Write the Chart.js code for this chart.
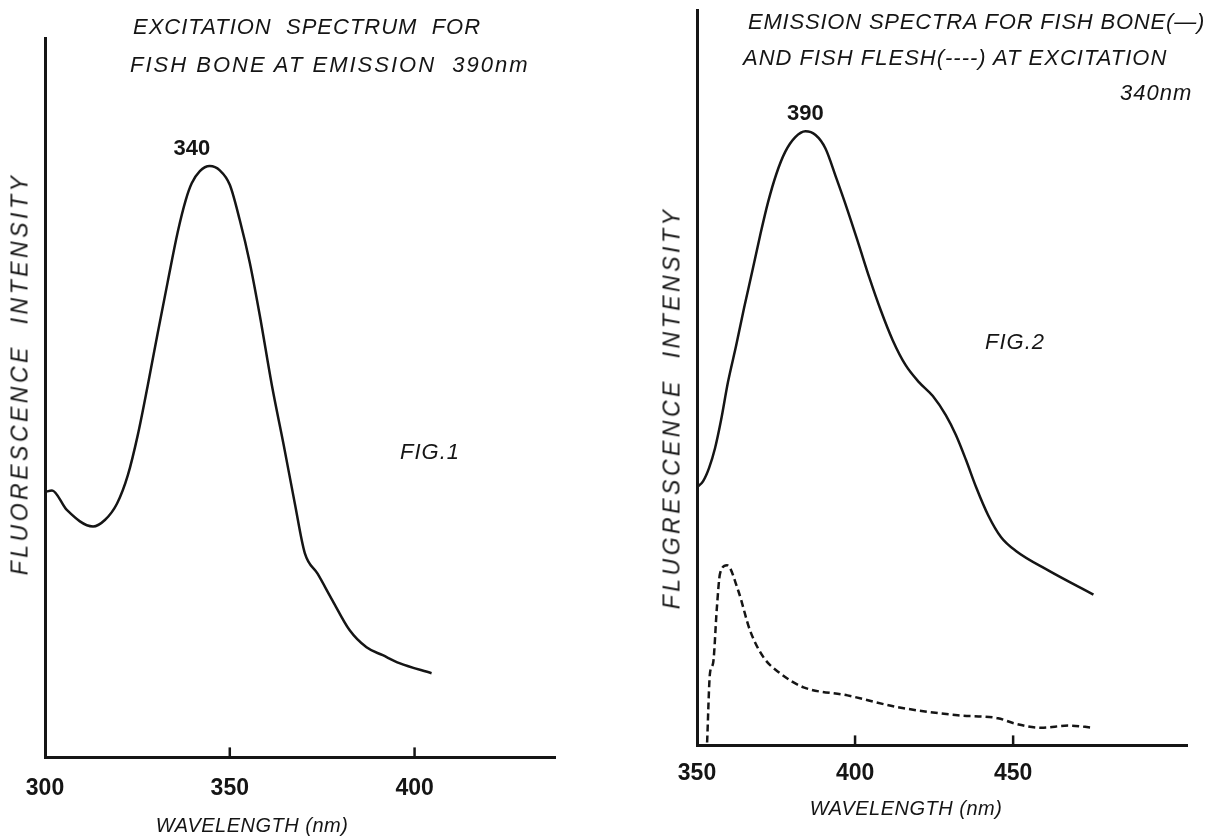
<!DOCTYPE html>
<html>
<head>
<meta charset="utf-8">
<script src="https://cdn.jsdelivr.net/npm/chart.js@4.4.1/dist/chart.umd.min.js"></script>
<style>
  html, body { margin: 0; padding: 0; background: #fff; }
  #page { position: relative; width: 1216px; height: 837px; overflow: hidden;
          font-family: "Liberation Sans", Arial, sans-serif; color: #151515; }
  canvas { position: absolute; top: 0; }
  #chart1 { left: 0; }
  #chart2 { left: 620px; }
  .note { position: absolute; font-style: italic; font-size: 22px; letter-spacing: 1px;
          white-space: pre; line-height: 1; transform: translateY(-50%); }
  .xtitle { position: absolute; font-style: italic; font-size: 20px; letter-spacing: 0.5px;
            white-space: pre; line-height: 1; transform: translate(-50%, -50%); }
  .ytitle { position: absolute; font-style: italic; font-size: 23px; letter-spacing: 3.5px;
            white-space: pre; line-height: 1; transform: translate(-50%, -50%) rotate(-90deg); }
</style>
</head>
<body>
<div id="page">
  <canvas id="chart1" width="620" height="837"></canvas>
  <canvas id="chart2" width="596" height="837"></canvas>

  <div class="note" style="left:133px; top:27px;">EXCITATION  SPECTRUM  FOR</div>
  <div class="note" style="left:130px; top:65px; letter-spacing:2px;">FISH BONE AT EMISSION  390nm</div>
  <div class="note" style="left:400px; top:452px;">FIG.1</div>
  <div class="ytitle" style="left:20px; top:374px;">FLUORESCENCE  INTENSITY</div>
  <div class="xtitle" style="left:252px; top:825px;">WAVELENGTH (nm)</div>

  <div class="note" style="left:748px; top:22px; letter-spacing:0.8px;">EMISSION SPECTRA FOR FISH BONE(—)</div>
  <div class="note" style="left:743px; top:58px;">AND FISH FLESH(----) AT EXCITATION</div>
  <div class="note" style="left:1120px; top:93px;">340nm</div>
  <div class="note" style="left:985px; top:342px;">FIG.2</div>
  <div class="ytitle" style="left:672px; top:408px;">FLUGRESCENCE  INTENSITY</div>
  <div class="xtitle" style="left:906px; top:808px;">WAVELENGTH (nm)</div>
</div>

<script>
// Fig. 1 - excitation spectrum of fish bone (emission 390 nm)
const excitationWavelength = [300, 301.9, 305.9, 313.0, 316.2, 319.5, 322.4, 325.1, 327.8, 330.5, 333.2, 335.9, 338.1,
  339.7, 341.9, 344.6, 347.3, 350.0, 352.7, 355.4, 358.1, 361.4, 364.6, 367.6, 370.3, 373.8, 377.8, 382.4,
  387.0, 391.4, 395.9, 404.6];
const excitationBone = [36.9, 37.1, 34.4, 32.1, 33.0, 35.3, 39.2, 44.8, 51.7, 59.0, 66.1, 73.0, 77.5,
  79.8, 81.5, 82.2, 81.6, 79.6, 74.7, 68.8, 61.5, 51.7, 43.4, 35.3, 28.4, 25.5, 21.8, 17.7,
  15.3, 14.2, 13.1, 11.7];

// Fig. 2 - emission spectra at excitation 340 nm
const emissionWavelength = [350.0, 351.9, 353.8, 355.7, 357.6, 359.8, 362.4, 364.9, 367.5, 370.0, 372.5, 375.1,
  377.9, 381.1, 384.3, 387.5, 390.6, 394.1, 397.6, 401.1, 404.6, 408.1, 411.9, 416.0, 420.2, 424.6, 428.7,
  431.9, 435.1, 438.3, 442.1, 446.2, 451.0, 461.1, 475.4];
const emissionBone = [35.1, 35.9, 37.7, 40.4, 44.2, 49.4, 54.4, 59.5, 64.5, 69.4, 73.9, 77.7,
  80.7, 82.7, 83.5, 83.0, 81.2, 77.1, 72.8, 68.2, 63.5, 59.2, 55.1, 51.7, 49.4, 47.5, 44.9,
  42.2, 38.8, 35.1, 31.3, 28.3, 26.4, 23.8, 20.5];
const fleshWavelength = [353.2, 354.1, 355.1, 356.3, 357.3, 359.5, 363.0, 366.8, 371.0, 376.3, 383.7, 397.6,
  413.5, 432.5, 445.2, 450.3, 458.9, 467.5, 475.4];
const emissionFlesh = [0.4, 9.8, 11.2, 18.8, 23.4, 24.5, 21.1, 15.6, 12.0, 9.8, 7.9, 6.8,
  5.2, 4.1, 3.7, 3.0, 2.4, 2.7, 2.4];

const fig1Ticks = [300, 350, 400];
const fig2Ticks = [350, 400, 450];
const fig1Range = [300, 438];
const fig2Range = [350, 505];
const peakLabels = ["340", "390"];

const ink = "#151515";
const fontFamily = "\"Liberation Sans\", Arial, sans-serif";

const toPoints = (xs, ys) => xs.map((x, i) => ({ x: x, y: ys[i] }));

const peakLabel = {
  id: "peakLabel",
  afterDatasetsDraw(chart, args, opts) {
    const data = chart.data.datasets[0].data;
    let top = data[0];
    data.forEach((p) => { if (p.y > top.y) top = p; });
    const x = chart.scales.x.getPixelForValue(top.x);
    const y = chart.scales.y.getPixelForValue(top.y);
    const ctx = chart.ctx;
    ctx.save();
    ctx.font = "bold 22px " + fontFamily;
    ctx.fillStyle = ink;
    ctx.textAlign = "center";
    ctx.textBaseline = "bottom";
    ctx.fillText(opts.text, x + (opts.dx || 0), y - 6);
    ctx.restore();
  }
};

// short tick marks standing up inside the plot
const innerTicks = {
  id: "innerTicks",
  afterDraw(chart) {
    const { ctx, chartArea } = chart;
    const xScale = chart.scales.x;
    ctx.save();
    ctx.strokeStyle = ink;
    ctx.lineWidth = 2.5;
    xScale.ticks.forEach((t) => {
      if (t.value === xScale.min) return;
      const px = xScale.getPixelForValue(t.value);
      ctx.beginPath();
      ctx.moveTo(px, chartArea.bottom);
      ctx.lineTo(px, chartArea.bottom - 10);
      ctx.stroke();
    });
    ctx.restore();
  }
};

function makeChart(canvasId, datasets, range, tickValues, label, padding, tickPad, labelDx) {
  return new Chart(document.getElementById(canvasId), {
    type: "line",
    data: { datasets: datasets },
    options: {
      responsive: false,
      animation: false,
      layout: { padding: padding },
      plugins: {
        legend: { display: false },
        tooltip: { enabled: false },
        peakLabel: { text: label, dx: labelDx }
      },
      elements: { point: { radius: 0 } },
      scales: {
        x: {
          type: "linear",
          min: range[0],
          max: range[1],
          afterBuildTicks(scale) {
            scale.ticks = tickValues.map((v) => ({ value: v }));
          },
          grid: { drawOnChartArea: false, drawTicks: false },
          border: { display: true, color: ink, width: 3 },
          ticks: {
            color: ink,
            padding: tickPad,
            maxRotation: 0,
            autoSkip: false,
            font: { family: fontFamily, size: 23, weight: "bold" }
          }
        },
        y: {
          min: 0,
          max: 100,
          grid: { drawOnChartArea: false, drawTicks: false },
          border: { display: true, color: ink, width: 3 },
          ticks: { display: false }
        }
      }
    },
    plugins: [peakLabel, innerTicks]
  });
}

makeChart("chart1", [
  {
    label: "Fish bone",
    data: toPoints(excitationWavelength, excitationBone),
    borderColor: ink,
    borderWidth: 2.5,
    cubicInterpolationMode: "monotone",
    fill: false
  }
], fig1Range, fig1Ticks, peakLabels[0], { left: 45, right: 65, top: 38, bottom: 18 }, 17, -18);

makeChart("chart2", [
  {
    label: "Fish bone",
    data: toPoints(emissionWavelength, emissionBone),
    borderColor: ink,
    borderWidth: 2.5,
    cubicInterpolationMode: "monotone",
    fill: false
  },
  {
    label: "Fish flesh",
    data: toPoints(fleshWavelength, emissionFlesh),
    borderColor: ink,
    borderWidth: 2.5,
    borderDash: [7, 4],
    cubicInterpolationMode: "monotone",
    fill: false
  }
], fig2Range, fig2Ticks, peakLabels[1], { left: 77, right: 29, top: 10, bottom: 36 }, 14, 0);
</script>
</body>
</html>
